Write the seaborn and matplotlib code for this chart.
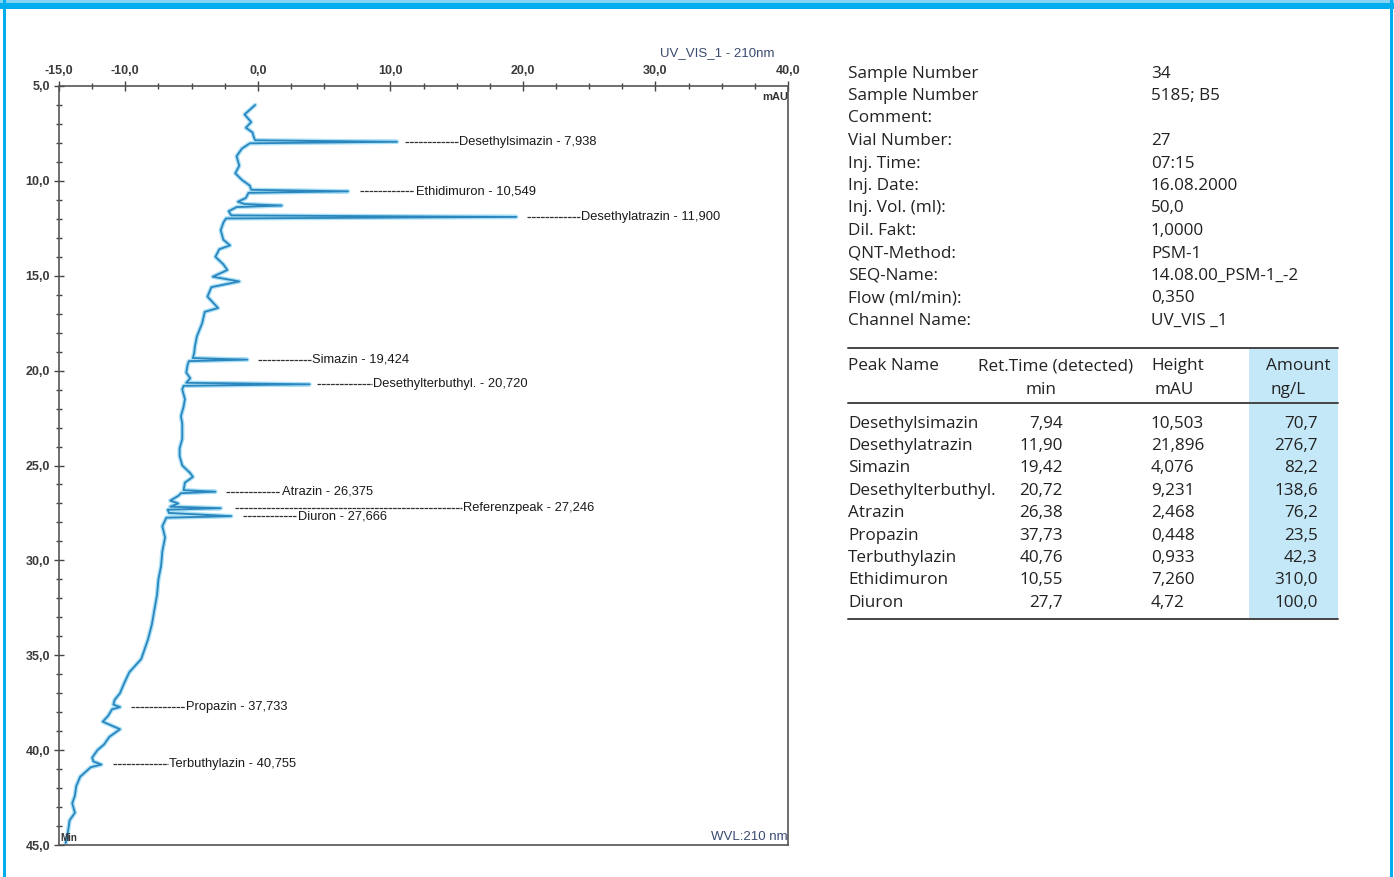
import matplotlib
matplotlib.use("Agg")
import matplotlib.pyplot as plt
from matplotlib import font_manager
from matplotlib.ticker import FixedLocator, FuncFormatter
from matplotlib.patches import Rectangle
import seaborn as sns
import pandas as pd
import numpy as np

# ---------------- data ----------------
trace_time = [6.0, 6.5, 6.9, 7.2, 7.45, 7.7, 7.86, 7.94, 8.02, 8.3, 8.7, 9.2, 9.6, 9.95,
              10.25, 10.47, 10.55, 10.63, 10.9, 11.1, 11.22, 11.3, 11.38, 11.6, 11.82, 11.9,
              11.98, 12.2, 12.6, 13.1, 13.4, 13.6, 14.0, 14.4, 14.7, 15.05, 15.3, 15.6, 16.1,
              16.7, 16.9, 17.5, 18.2, 18.75, 19.07, 19.34, 19.42, 19.5, 19.7, 20.1, 20.4,
              20.64, 20.72, 20.8, 21.0, 21.5, 21.9, 22.4, 22.8, 23.6, 24.1, 24.5, 25.0, 25.4,
              25.6, 25.9, 26.3, 26.38, 26.46, 26.6, 26.85, 27.0, 27.17, 27.25, 27.33, 27.5,
              27.67, 27.75, 28.2, 28.8, 29.5, 30.3, 31.0, 31.8, 32.6, 33.4, 34.2, 34.8, 35.2,
              35.9, 36.5, 37.0, 37.35, 37.6, 37.73, 37.85, 38.2, 38.5, 38.9, 39.3, 39.7, 40.0,
              40.4, 40.6, 40.76, 40.9, 41.4, 41.9, 42.4, 42.8, 43.3, 43.7, 44.2, 44.6, 44.9]
trace_mau = [-0.2, -1.0, -0.5, -0.9, -0.4, -0.3, -0.2, 10.5, -0.6, -1.2, -1.6, -1.4, -1.7, -1.2,
             -0.6, -0.5, 6.8, -0.7, -0.9, -1.5, -1.0, 1.8, -1.6, -2.2, -2.0, 19.5,
             -2.4, -2.6, -2.8, -2.6, -2.1, -2.9, -3.2, -2.6, -2.3, -3.4, -1.4, -3.5, -3.8,
             -3.0, -4.0, -4.2, -4.6, -4.75, -4.8, -4.9, -0.8, -5.2, -5.3, -5.4, -5.1,
             -5.4, 3.9, -5.6, -5.7, -5.5, -5.6, -5.8, -5.7, -5.7, -5.9, -5.9, -5.7, -5.1,
             -4.9, -5.5, -5.6, -3.2, -5.8, -6.0, -6.6, -6.0, -6.6, -2.8, -6.8, -6.7,
             -2.0, -6.9, -7.2, -7.0, -7.2, -7.3, -7.5, -7.6, -7.8, -8.0, -8.3, -8.6, -8.8,
             -9.7, -10.1, -10.4, -10.8, -10.9, -10.4, -11.0, -11.3, -11.7, -10.4, -11.2, -11.6, -12.1,
             -12.5, -12.4, -11.8, -12.6, -13.4, -13.7, -13.8, -14.0, -13.8, -14.2, -14.3, -14.4, -14.5]

peak_names = ["Desethylsimazin", "Ethidimuron", "Desethylatrazin", "Simazin",
              "Desethylterbuthyl.", "Atrazin", "Referenzpeak", "Diuron", "Propazin", "Terbuthylazin"]
peak_times = [7.938, 10.549, 11.900, 19.424, 20.720, 26.375, 27.246, 27.666, 37.733, 40.755]
peak_time_labels = ["7,938", "10,549", "11,900", "19,424", "20,720", "26,375", "27,246",
                    "27,666", "37,733", "40,755"]

info_keys = ["Sample Number", "Sample Number", "Comment:", "Vial Number:", "Inj. Time:",
             "Inj. Date:", "Inj. Vol. (ml):", "Dil. Fakt:", "QNT-Method:", "SEQ-Name:",
             "Flow (ml/min):", "Channel Name:"]
info_vals = ["34", "5185; B5", "", "27", "07:15", "16.08.2000", "50,0", "1,0000", "PSM-1",
             "14.08.00_PSM-1_-2", "0,350", "UV_VIS _1"]

tbl_names = ["Desethylsimazin", "Desethylatrazin", "Simazin", "Desethylterbuthyl.", "Atrazin",
             "Propazin", "Terbuthylazin", "Ethidimuron", "Diuron"]
tbl_ret = ["7,94", "11,90", "19,42", "20,72", "26,38", "37,73", "40,76", "10,55", "27,7"]
tbl_height = ["10,503", "21,896", "4,076", "9,231", "2,468", "0,448", "0,933", "7,260", "4,72"]
tbl_amount = ["70,7", "276,7", "82,2", "138,6", "76,2", "23,5", "42,3", "310,0", "100,0"]

x_major = [-15, -10, 0, 10, 20, 30, 40]
y_major = [5, 10, 15, 20, 25, 30, 35, 40, 45]

# ---------------- layout / style ----------------
leader_x0 = [11.1, 7.7, 20.3, 0.0, 4.5, -2.4, -1.7, -1.1, -9.6, -10.9]
leader_x1 = [15.1, 11.8, 24.3, 4.0, 8.6, 1.7, 15.4, 2.9, -5.5, -6.8]

sns.set_style("white")
avail = {f.name for f in font_manager.fontManager.ttflist}
narrow = "Liberation Sans Narrow" if "Liberation Sans Narrow" in avail else "Liberation Sans"
lab_size = 10.8 if narrow == "Liberation Sans Narrow" else 9.3
plt.rcParams['font.family'] = ['Open Sans', 'DejaVu Sans']

W, H = 1394, 877
fig = plt.figure(figsize=(W / 100, H / 100), dpi=100)
fig.patch.set_facecolor("white")

def px_rect(l, t, r, b):
    return [l / W, 1 - b / H, (r - l) / W, (b - t) / H]

ax = fig.add_axes(px_rect(59, 86, 788, 845))
df = pd.DataFrame({"t": trace_time, "mau": trace_mau})
sns.lineplot(data=df, x="mau", y="t", sort=False, estimator=None, ax=ax,
             color="#8fd6f4", lw=3.2, alpha=0.75)
sns.lineplot(data=df, x="mau", y="t", sort=False, estimator=None, ax=ax,
             color="#2a86bd", lw=1.3)

ax.set_xlim(-15, 40)
ax.set_ylim(45, 5)
ax.set_xlabel("")
ax.set_ylabel("")
ax.xaxis.tick_top()
ax.xaxis.set_major_locator(FixedLocator(x_major))
ax.xaxis.set_minor_locator(FixedLocator(list(np.arange(-15, 40.01, 2.5))))
ax.yaxis.set_major_locator(FixedLocator(y_major))
ax.yaxis.set_minor_locator(FixedLocator(list(range(5, 46))))
fmt = FuncFormatter(lambda v, p: f"{v:.1f}".replace(".", ","))
ax.xaxis.set_major_formatter(fmt)
ax.yaxis.set_major_formatter(fmt)
ax.tick_params(which="both", direction="inout", color="#444444", width=1.0)
ax.tick_params(which="major", length=7)
ax.tick_params(which="minor", length=5)
ax.tick_params(axis="x", which="both", top=True, bottom=False)
ax.tick_params(axis="y", which="both", left=True, right=False)
ax.tick_params(axis="both", labelsize=9, labelcolor="#3a3a3a", pad=3)
for lab in ax.get_xticklabels() + ax.get_yticklabels():
    lab.set_fontfamily(narrow)
    lab.set_fontweight("bold")
for s in ax.spines.values():
    s.set_visible(True)
    s.set_color("#555555")
    s.set_linewidth(1.2)

for name, t, tl, x0, x1 in zip(peak_names, peak_times, peak_time_labels, leader_x0, leader_x1):
    ax.plot([x0, x1], [t, t], color="#333333", lw=0.9, ls=(0, (3, 0.6)))
    ax.text(x1 + 0.1, t, f"{name} - {tl}", family=narrow, fontsize=lab_size,
            color="#1a1a1a", va="center", ha="left")

ax.text(1.0, 0.992, "mAU", transform=ax.transAxes, ha="right", va="top",
        family=narrow, fontsize=8, color="#333333", fontweight="bold")
ax.text(1.0, 0.003, "WVL:210 nm", transform=ax.transAxes, ha="right", va="bottom",
        family=narrow, fontsize=9.5, color="#3a4a70")
ax.text(0.002, 0.003, "Min", transform=ax.transAxes, ha="left", va="bottom",
        family=narrow, fontsize=7, color="#333333", fontweight="bold")

# ---------------- overlay in pixel coords ----------------
ov = fig.add_axes([0, 0, 1, 1])
ov.set_xlim(0, W)
ov.set_ylim(H, 0)
ov.axis("off")
ov.patch.set_alpha(0)

ov.add_patch(Rectangle((0, 0), W, 3, color="#86d4f3", lw=0))
ov.add_patch(Rectangle((0, 3), W, 6, color="#00aeef", lw=0))
ov.add_patch(Rectangle((3, 0), 3, H, color="#00aeef", lw=0))
ov.add_patch(Rectangle((1390, 0), 3, H, color="#00aeef", lw=0))

ov.text(775, 53, "UV_VIS_1 - 210nm", ha="right", va="center", family=narrow,
        fontsize=9.5, color="#3a4a70")

fs = 12.3
col_k, col_v = 848, 1151
for i, (k, v) in enumerate(zip(info_keys, info_vals)):
    y = 73.5 + i * 22.5
    ov.text(col_k, y, k, ha="left", va="center", fontsize=fs, color="#222222")
    ov.text(col_v, y, v, ha="left", va="center", fontsize=fs, color="#222222")

ov.add_patch(Rectangle((1249, 348), 89, 271, color="#c5e8f8", lw=0))
ov.plot([848, 1338], [347.5, 347.5], color="#444444", lw=1.4)
ov.plot([848, 1338], [402.5, 402.5], color="#444444", lw=1.4)
ov.plot([848, 1338], [619, 619], color="#444444", lw=1.4)
ov.text(848, 366.5, "Peak Name", ha="left", va="center", fontsize=fs, color="#222222")
ov.text(1133, 366.5, "Ret.Time (detected)", ha="right", va="center", fontsize=fs, color="#222222")
ov.text(1041, 389.5, "min", ha="center", va="center", fontsize=fs, color="#222222")
ov.text(1151, 366.5, "Height", ha="left", va="center", fontsize=fs, color="#222222")
ov.text(1155, 389.5, "mAU", ha="left", va="center", fontsize=fs, color="#222222")
ov.text(1330, 366.5, "Amount", ha="right", va="center", fontsize=fs, color="#222222")
ov.text(1270, 389.5, "ng/L", ha="left", va="center", fontsize=fs, color="#222222")
for i, (n, r, h, a) in enumerate(zip(tbl_names, tbl_ret, tbl_height, tbl_amount)):
    y = 423.5 + i * 22.4
    ov.text(848, y, n, ha="left", va="center", fontsize=fs, color="#222222")
    ov.text(1063, y, r, ha="right", va="center", fontsize=fs, color="#222222")
    ov.text(1151, y, h, ha="left", va="center", fontsize=fs, color="#222222")
    ov.text(1318, y, a, ha="right", va="center", fontsize=fs, color="#222222")

fig.savefig("out.png", dpi=100, facecolor="white")
